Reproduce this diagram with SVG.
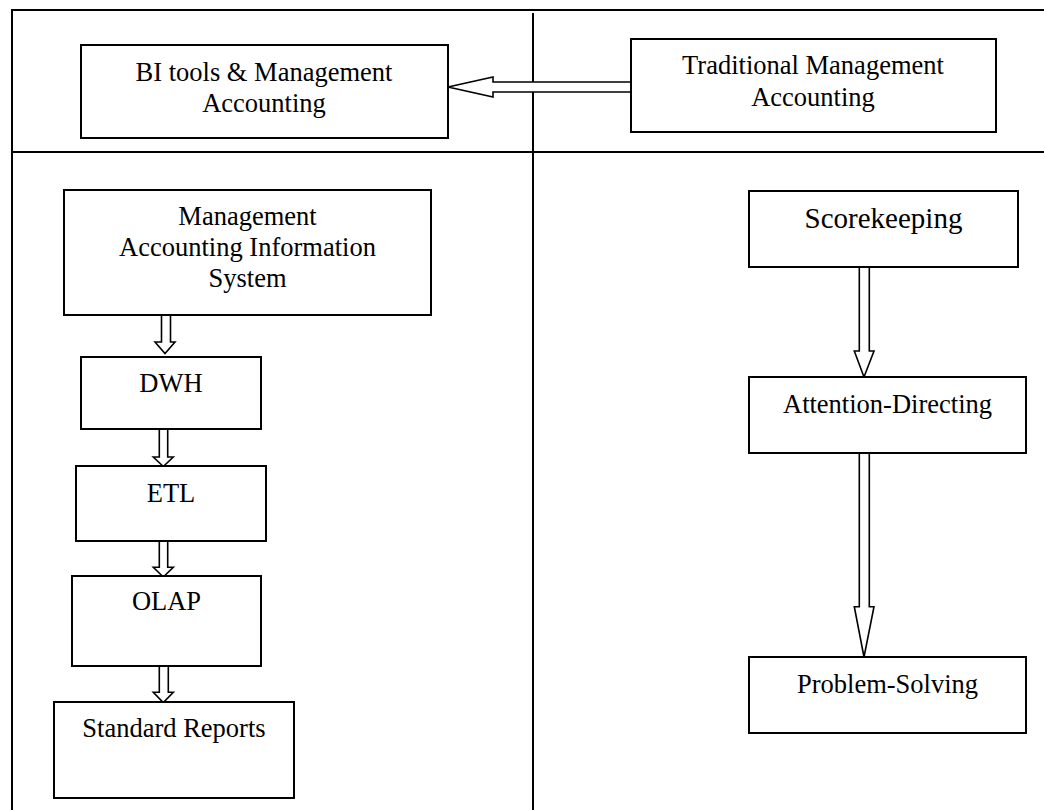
<svg xmlns="http://www.w3.org/2000/svg" width="1044" height="810" viewBox="0 0 1044 810">
<style>
.frame{stroke:#000;stroke-width:2;fill:none}
.box{fill:#fff;stroke:#000;stroke-width:2}
.arr{fill:#fff;stroke:#000;stroke-width:1.6;stroke-linejoin:miter}
text{font-family:"Liberation Serif","Times New Roman",serif;font-size:26.5px;fill:#000;text-anchor:middle}
.big{font-size:29px}
</style>
<rect width="1044" height="810" fill="#fff"/>
<g id="frame">
<line class="frame" x1="12" y1="10" x2="1044" y2="10"/>
<line class="frame" x1="12" y1="9" x2="12" y2="810"/>
<line class="frame" x1="12" y1="152" x2="1044" y2="152"/>
<line class="frame" x1="533" y1="13" x2="533" y2="810"/>
</g>
<g id="connectors">
<polygon class="arr" points="631,82 493,82 493,77 448,87 493,97 493,92 631,92"/>
<polygon class="arr" points="161.5,315 161.5,342 155,342 165,353.5 175,342 170.5,342 170.5,315"/>
<polygon class="arr" points="159.3,429 159.3,457 153.3,457 163.3,466.5 173.3,457 167.7,457 167.7,429"/>
<polygon class="arr" points="159.3,541 159.3,567.3 153.3,567.3 163.3,577 173.3,567.3 167.7,567.3 167.7,541"/>
<polygon class="arr" points="159.3,666 159.3,692.3 153.3,692.3 163.3,702.5 173.3,692.3 168.3,692.3 168.3,666"/>
<polygon class="arr" points="859.3,267 859.3,351 854.3,351 864,377 874,351 869.3,351 869.3,267"/>
<polygon class="arr" points="859.3,453 859.3,606.7 854.3,606.7 864,657 874,606.7 869.3,606.7 869.3,453"/>
</g>
<g id="bi">
<rect class="box" x="81" y="45" width="367" height="93"/>
<text x="264" y="81">BI tools &amp; Management</text>
<text x="264" y="112">Accounting</text>
</g>
<g id="traditional">
<rect class="box" x="631" y="39" width="365" height="93"/>
<text x="813" y="74">Traditional Management</text>
<text x="813" y="106">Accounting</text>
</g>
<g id="mais">
<rect class="box" x="64" y="190" width="367" height="125"/>
<text x="247.5" y="225">Management</text>
<text x="247.5" y="255.5">Accounting Information</text>
<text x="247.5" y="287">System</text>
</g>
<g id="dwh">
<rect class="box" x="81" y="357" width="180" height="72"/>
<text x="171" y="391.5">DWH</text>
</g>
<g id="etl">
<rect class="box" x="76" y="466" width="190" height="75"/>
<text x="171" y="501.5">ETL</text>
</g>
<g id="olap">
<rect class="box" x="72" y="576" width="189" height="90"/>
<text x="166.5" y="610">OLAP</text>
</g>
<g id="reports">
<rect class="box" x="54" y="702" width="240" height="96"/>
<text x="174" y="737">Standard Reports</text>
</g>
<g id="scorekeeping">
<rect class="box" x="749" y="191" width="269" height="76"/>
<text class="big" x="883.5" y="228">Scorekeeping</text>
</g>
<g id="attention">
<rect class="box" x="749" y="377" width="277" height="76"/>
<text x="887.5" y="413">Attention-Directing</text>
</g>
<g id="problem">
<rect class="box" x="749" y="657" width="277" height="76"/>
<text x="887.5" y="692.5">Problem-Solving</text>
</g>
</svg>
